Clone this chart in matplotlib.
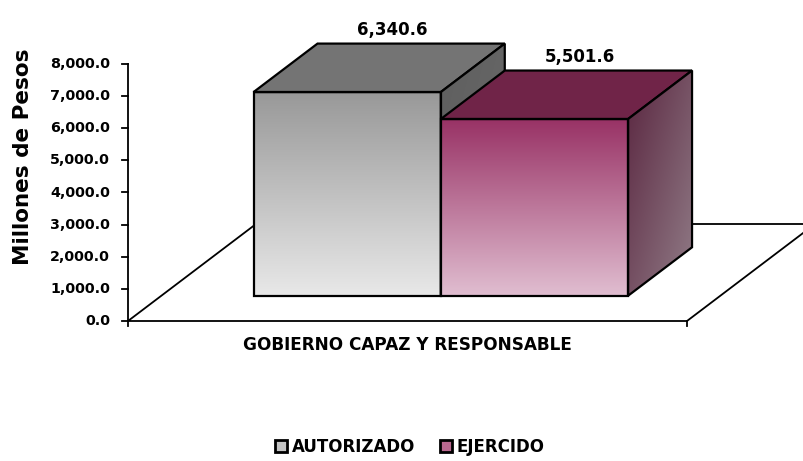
import numpy as np
import matplotlib
matplotlib.use('Agg')
import matplotlib.pyplot as plt
from matplotlib.patches import Polygon, Patch
from matplotlib.colors import to_rgb

# datos
categoria = 'GOBIERNO CAPAZ Y RESPONSABLE'
series = ['AUTORIZADO', 'EJERCIDO']
valores = [6340.6, 5501.6]
ticks_y = [0, 1000, 2000, 3000, 4000, 5000, 6000, 7000, 8000]
titulo_y = 'Millones de Pesos'

# colores por serie: frente (arriba, abajo), tapa, lado (arriba, abajo), leyenda
estilos = [
    dict(front=('#999999', '#e8e8e8'), top='#747474', side=('#5f5f5f', '#6a6a6a'), leg='#c4c4c4'),
    dict(front=('#993366', '#e0bdd0'), top='#702448', side=('#5a2640', '#917c87'), leg='#b9688f'),
]

plt.rcParams['font.family'] = 'DejaVu Sans'
plt.rcParams['font.weight'] = 'bold'

W, H = 804, 461
fig = plt.figure(figsize=(W / 100, H / 100), dpi=100)
ax = fig.add_axes([0, 0, 1, 1])
ax.axis('off')

# escala: piso frontal x 0..1 -> px 128..687 ; valor 0..8000 -> px 321..64
x_px0, x_px1 = 128, 687
y_px0, y_px1 = 321, 64
sx = x_px1 - x_px0
sy = (y_px0 - y_px1) / 8000.0
ax.set_xlim(-x_px0 / sx, (W - x_px0) / sx)
ax.set_ylim(-(H - y_px0) / sy, y_px0 / sy)

DX = 128 / sx   # profundidad del piso
DY = 97 / sy
d0, d1 = 0.26, 0.76
ancho = 0.335
lw = 1.3
lw_barra = 1.6


def proj(x, d, v):
    return (x + d * DX, v + d * DY)


def grad(c1, c2, diag=False, n=64):
    t = np.linspace(0, 1, n)
    if diag:
        T = (t[:, None] + t[None, :]) / 2
    else:
        T = t[:, None] * np.ones((1, 2))
    a, b = np.array(to_rgb(c1)), np.array(to_rgb(c2))
    return a + (b - a) * T[..., None]


def cara(pts, z, color=None, img=None):
    if img is None:
        ax.add_patch(Polygon(pts, closed=True, facecolor=color, edgecolor='black',
                             lw=lw_barra, zorder=z, joinstyle='miter'))
        return
    poly = Polygon(pts, closed=True, facecolor='none', edgecolor='black',
                   lw=lw_barra, zorder=z + 0.1, joinstyle='miter')
    ax.add_patch(poly)
    xs, ys = zip(*pts)
    im = ax.imshow(img, extent=[min(xs), max(xs), min(ys), max(ys)], origin='upper',
                   aspect='auto', interpolation='bilinear', zorder=z)
    im.set_clip_path(poly)


# piso
piso = [proj(0, 0, 0), proj(1, 0, 0), proj(1, 1, 0), proj(0, 1, 0)]
ax.add_patch(Polygon(piso, closed=True, facecolor='white', edgecolor='black', lw=lw, zorder=1))
tk = 5 / sy
for xx in (0, 1):
    ax.plot([xx, xx], [0, -tk], color='black', lw=lw, zorder=1)

# eje de valores
ax.plot([0, 0], [0, ticks_y[-1]], color='black', lw=lw, zorder=1)
for t in ticks_y:
    ax.plot([-6 / sx, 0], [t, t], color='black', lw=lw, zorder=1)
    ax.text(-18 / sx, t, f'{t:,.1f}', ha='right', va='center', fontsize=10.3)
ax.text(-105 / sx, 5100, titulo_y, rotation=90, ha='center', va='center', fontsize=15.5)

# barras
x_ini = 0.5 - ancho
for i, (nombre, h) in enumerate(zip(series, valores)):
    e = estilos[i]
    x0 = x_ini + i * ancho
    x1 = x0 + ancho
    z = 2 + i
    cara([proj(x0, d0, 0), proj(x1, d0, 0), proj(x1, d0, h), proj(x0, d0, h)], z,
         img=grad(*e['front']))
    cara([proj(x0, d0, h), proj(x1, d0, h), proj(x1, d1, h), proj(x0, d1, h)], z, color=e['top'])
    cara([proj(x1, d0, 0), proj(x1, d1, 0), proj(x1, d1, h), proj(x1, d0, h)], z,
         img=grad(*e['side'], diag=True))
    ax.annotate(f'{h:,.1f}', xy=proj((x0 + x1) / 2, d1, h), xytext=(-19, 14),
                textcoords='offset pixels', ha='center', va='center', fontsize=12, zorder=6)

ax.text(0.5, -24 / sy, categoria, ha='center', va='center', fontsize=12.2)

handles = [Patch(facecolor=e['leg'], edgecolor='black', lw=2) for e in estilos]
fig.legend(handles, series, loc='center', bbox_to_anchor=(410 / W, 1 - 447 / H), ncol=2,
           frameon=False, fontsize=12, handlelength=0.7, handleheight=0.7,
           handletextpad=0.3, columnspacing=1.5)

fig.savefig('out.png', dpi=100)
